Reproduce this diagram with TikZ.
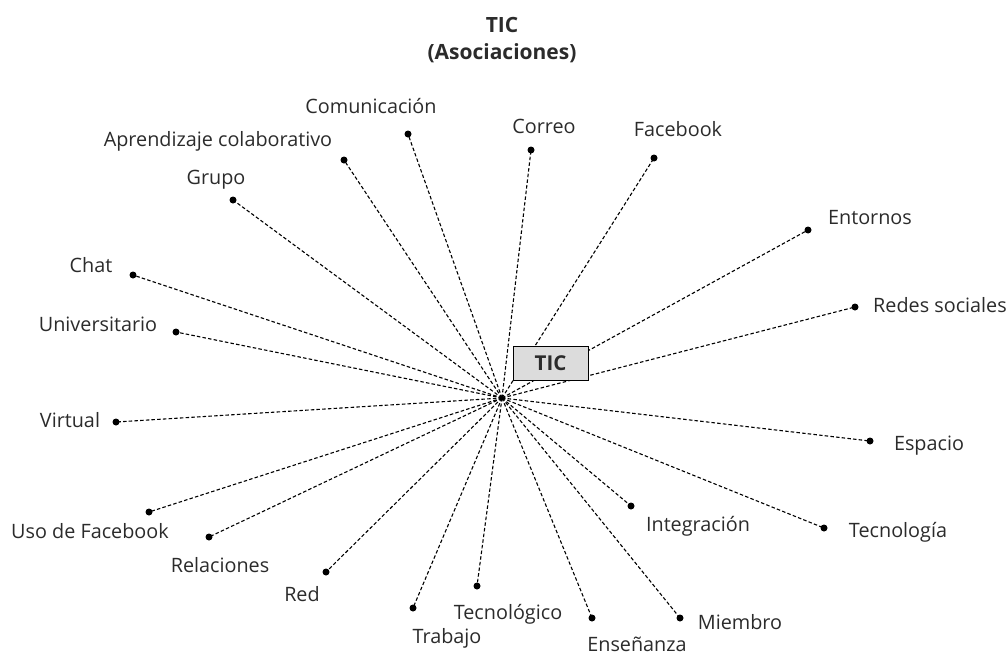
\documentclass[tikz,border=0pt]{standalone}
\usepackage{fontspec}
\setmainfont{Open Sans}
\definecolor{txt}{HTML}{2B2B2B}
\definecolor{boxfill}{HTML}{DCDCDC}
\begin{document}
\begin{tikzpicture}[x=1pt,y=-1pt,
  lbl/.style={inner sep=0pt, text height=13pt, text depth=0pt, text=txt, font=\fontsize{19.8}{22}\selectfont},
  ttl/.style={inner sep=0pt, text height=14pt, text depth=0pt, text=txt, font=\fontsize{21}{24}\selectfont\bfseries},
  endpt/.style={circle, fill=black, inner sep=0pt, minimum size=7pt},
  link/.style={dash pattern=on 3.5pt off 2.2pt, line width=1.1pt},
  tbox/.style={draw=black, line width=1pt, fill=boxfill, minimum width=75pt, minimum height=34pt, inner sep=0pt, text height=14pt, text depth=0pt, font=\fontsize{20.5}{22}\selectfont\bfseries, text=txt}
]
\useasboundingbox (0,0) rectangle (1006,656);

\node[ttl] (t1) at (502,25) {TIC};
\node[ttl] (t2) at (502,52) {(Asociaciones)};

\coordinate (c) at (502,398);

\node[endpt] (d1) at (408,134) {};
\node[endpt] (d2) at (344,160) {};
\node[endpt] (d3) at (233,200) {};
\node[endpt] (d4) at (531,150) {};
\node[endpt] (d5) at (654,158) {};
\node[endpt] (d6) at (808,230) {};
\node[endpt] (d7) at (855,307) {};
\node[endpt] (d8) at (133,275) {};
\node[endpt] (d9) at (176,332) {};
\node[endpt] (d10) at (116,422) {};
\node[endpt] (d11) at (870,441) {};
\node[endpt] (d12) at (824,528) {};
\node[endpt] (d13) at (149,512) {};
\node[endpt] (d14) at (209,537) {};
\node[endpt] (d15) at (326,572) {};
\node[endpt] (d16) at (631,506) {};
\node[endpt] (d17) at (477,586) {};
\node[endpt] (d18) at (413,608) {};
\node[endpt] (d19) at (592,618) {};
\node[endpt] (d20) at (680,618) {};

\foreach \i in {1,...,20} { \draw[link] (c) -- (d\i.center); }
\fill (c) circle (2pt);

\node[tbox] (tic) at (550.5,363) {TIC};

\node[lbl] (l1) at (371,107) {Comunicación};
\node[lbl] (l2) at (218,140) {Aprendizaje colaborativo};
\node[lbl] (l3) at (216,178) {Grupo};
\node[lbl] (l4) at (544,127) {Correo};
\node[lbl] (l5) at (678,130) {Facebook};
\node[lbl] (l6) at (870,218) {Entornos};
\node[lbl] (l7) at (940,306) {Redes sociales};
\node[lbl] (l8) at (91,266) {Chat};
\node[lbl] (l9) at (98,325) {Universitario};
\node[lbl] (l10) at (70,421) {Virtual};
\node[lbl] (l11) at (929,444) {Espacio};
\node[lbl] (l12) at (898,531) {Tecnología};
\node[lbl] (l13) at (90,532) {Uso de Facebook};
\node[lbl] (l14) at (220,566) {Relaciones};
\node[lbl] (l15) at (302,595) {Red};
\node[lbl] (l16) at (698,525) {Integración};
\node[lbl] (l17) at (508,613) {Tecnológico};
\node[lbl] (l18) at (447,637) {Trabajo};
\node[lbl] (l19) at (637,645) {Enseñanza};
\node[lbl] (l20) at (740,623) {Miembro};
\end{tikzpicture}
\end{document}
